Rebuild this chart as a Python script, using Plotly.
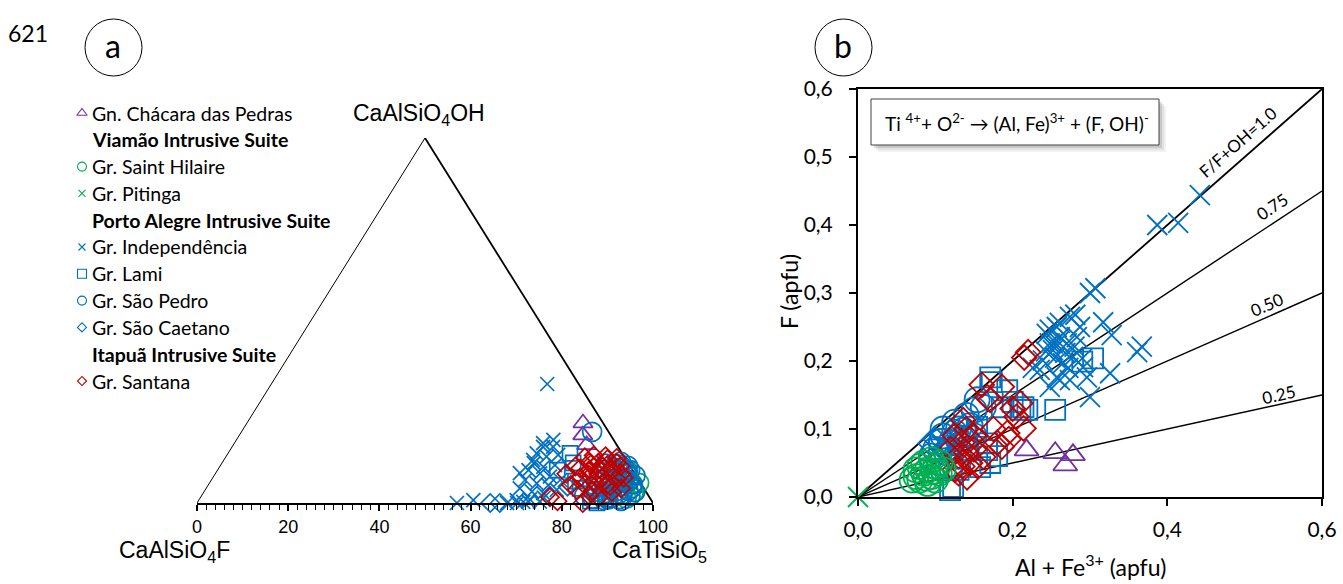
import math
import plotly.graph_objects as go

W, H = 1343, 584

# ---------------- data ----------------
# (a) ternary compositions, mol %: CaTiSiO5 and CaAlSiO4OH (CaAlSiO4F = remainder)
cha_ti = [73.7, 75.3, 77.5]
cha_oh = [21.9, 18.6, 15.9]

sh_ti = [92.0, 91.8, 91.4, 94.3, 90.5, 93.6, 93.0, 90.4, 94.2, 89.9]
sh_oh = [2.3, 4.1, 6.2, 3.0, 8.1, 1.2, 5.2, 6.4, 5.5, 9.0]

ind_ti = [60.5, 57.0, 60.2, 70.2, 71.4, 68.0, 72.5, 75.3, 68.2, 70.4, 67.7, 70.3,
          72.6, 68.4, 71.0, 73.3, 68.2, 71.2, 73.8, 68.8, 71.8, 74.6, 76.5, 68.8,
          71.9, 74.6, 77.1, 69.7, 72.5, 75.0, 66.7, 67.8, 67.7, 69.5]
ind_oh = [32.6, 0.0, 0.8, 0.0, 0.3, 0.0, 1.0, 1.5, 15.4, 15.4, 13.6, 12.7,
          13.2, 10.9, 9.9, 10.4, 9.0, 8.1, 7.2, 6.3, 5.4, 4.9, 6.3, 4.0,
          3.1, 2.7, 3.6, 0.8, 0.4, 0.4, 8.2, 11.8, 16.4, 17.3]

lami_ti = [75.0, 77.0, 87.7, 86.0, 74.5, 82.0, 80.0, 90.0]
lami_oh = [13.6, 11.0, 0.0, 0.5, 9.0, 4.0, 6.0, 1.0]

sp_ti = [86.2, 88.9, 90.4, 92.7, 94.1, 85.8, 88.1, 90.9, 92.2, 94.6, 86.9, 88.4,
         91.1, 92.9, 84.7, 86.3, 89.0, 90.2, 85.1, 86.8, 88.6, 84.2, 87.3, 89.7,
         91.8, 93.4, 87.6, 90.0, 85.5, 76.9, 83.9, 92.4, 89.4, 90.5, 87.9, 89.2,
         91.3, 93.0, 86.4, 88.0, 90.6, 92.1, 85.3, 87.0]
sp_oh = [1.2, 0.8, 1.5, 0.6, 1.9, 3.1, 2.7, 3.4, 2.2, 3.0, 4.8, 5.3,
         4.6, 5.1, 7.2, 6.6, 7.4, 6.9, 9.1, 8.7, 9.4, 10.8, 11.3, 1.0,
         6.0, 4.1, 3.9, 8.2, 5.7, 19.5, 2.0, 7.5, 10.2, 9.0, 1.8, 4.2,
         2.6, 3.3, 9.8, 6.3, 5.9, 1.1, 4.4, 10.6]

sc_ti = [64.3, 66.4, 88.5, 90.2, 91.0, 89.0, 79.0]
sc_oh = [0.0, 0.0, 10.5, 8.8, 6.5, 3.0, 4.5]

san_ti = [76.6, 78.8, 81.5, 84.6, 85.0, 87.3, 79.5, 80.5, 81.5, 82.5, 84.0, 78.8,
          80.5, 84.0, 86.5, 86.5, 89.0, 78.0, 77.0, 82.5, 84.0, 85.5, 87.5, 89.5,
          91.0, 80.5, 84.0, 79.3, 84.8, 88.8, 83.2, 85.9, 87.8, 82.0, 86.2, 88.3,
          81.1, 83.6, 90.1, 85.1]
san_oh = [1.6, 0.5, 3.6, 0.0, 2.0, 1.5, 5.0, 7.0, 9.0, 11.0, 12.0, 12.5,
          13.0, 10.0, 9.0, 11.0, 8.0, 10.0, 8.0, 5.0, 6.0, 7.0, 5.0, 3.0,
          4.0, 11.0, 8.0, 9.5, 10.5, 6.5, 12.8, 12.3, 10.1, 7.8, 5.4, 4.6,
          10.7, 9.2, 6.9, 3.4]

# (b) Al + Fe3+ (apfu) vs F (apfu)
cha_alfe = [0.218, 0.255, 0.278, 0.268, 0.105]
cha_f = [0.069, 0.065, 0.062, 0.047, 0.060]

sh_alfe = [0.075, 0.080, 0.085, 0.090, 0.095, 0.100, 0.105, 0.080, 0.090, 0.100,
           0.085, 0.095, 0.110, 0.075, 0.070, 0.088, 0.098, 0.106]
sh_f = [0.030, 0.025, 0.035, 0.040, 0.030, 0.045, 0.035, 0.045, 0.020, 0.025,
        0.050, 0.055, 0.040, 0.040, 0.025, 0.028, 0.038, 0.050]

pit_alfe = [0.0]
pit_f = [0.0]

ind_alfe = [0.442, 0.387, 0.414, 0.307, 0.300, 0.281, 0.317, 0.328, 0.367, 0.361,
            0.326, 0.300, 0.287, 0.257, 0.248, 0.226, 0.252, 0.244, 0.261, 0.248,
            0.261, 0.270, 0.252, 0.278, 0.239, 0.265, 0.291, 0.235, 0.257, 0.274,
            0.296, 0.248, 0.274, 0.283, 0.261, 0.268, 0.255, 0.280, 0.243, 0.290,
            0.272, 0.259]
ind_f = [0.444, 0.400, 0.403, 0.307, 0.300, 0.268, 0.257, 0.238, 0.221, 0.213,
         0.182, 0.147, 0.250, 0.250, 0.226, 0.190, 0.226, 0.240, 0.172, 0.246,
         0.235, 0.226, 0.216, 0.206, 0.201, 0.197, 0.191, 0.187, 0.176, 0.172,
         0.176, 0.162, 0.265, 0.235, 0.256, 0.212, 0.205, 0.221, 0.214, 0.204,
         0.190, 0.228]

lami_alfe = [0.255, 0.304, 0.290, 0.173, 0.193, 0.210, 0.186, 0.219, 0.119, 0.171,
             0.158, 0.167, 0.154, 0.200, 0.180, 0.140, 0.130, 0.105, 0.171, 0.214,
             0.123, 0.167]
lami_f = [0.128, 0.204, 0.199, 0.169, 0.157, 0.128, 0.132, 0.128, 0.010, 0.050,
          0.044, 0.079, 0.103, 0.140, 0.060, 0.090, 0.040, 0.070, 0.176, 0.132,
          0.015, 0.069]

sp_alfe = [0.115, 0.120, 0.130, 0.125, 0.140, 0.154, 0.150, 0.110, 0.100, 0.135,
           0.145, 0.130, 0.105, 0.120, 0.140, 0.162, 0.095, 0.110, 0.125, 0.150,
           0.118, 0.128, 0.108, 0.136]
sp_f = [0.065, 0.080, 0.100, 0.110, 0.120, 0.143, 0.128, 0.090, 0.070, 0.085,
        0.105, 0.060, 0.050, 0.045, 0.070, 0.132, 0.060, 0.100, 0.095, 0.090,
        0.072, 0.088, 0.082, 0.098]

sc_alfe = [0.093, 0.100, 0.110, 0.120]
sc_f = [0.079, 0.085, 0.070, 0.060]

san_alfe = [0.220, 0.160, 0.186, 0.167, 0.171, 0.210, 0.205, 0.214, 0.193, 0.186,
            0.136, 0.141, 0.162, 0.125, 0.130, 0.135, 0.140, 0.145, 0.150, 0.125,
            0.130, 0.140, 0.150, 0.155, 0.120, 0.145, 0.135, 0.175, 0.200, 0.180,
            0.215, 0.195]
san_f = [0.213, 0.165, 0.162, 0.147, 0.143, 0.138, 0.118, 0.101, 0.094, 0.074,
         0.113, 0.029, 0.059, 0.040, 0.060, 0.080, 0.100, 0.050, 0.070, 0.090,
         0.035, 0.065, 0.090, 0.045, 0.070, 0.085, 0.045, 0.100, 0.130, 0.080,
         0.205, 0.085]

ratios = [1.0, 0.75, 0.50, 0.25]
ratio_labels = ["F/F+OH=1.0", "0.75", "0.50", "0.25"]
label_at = [0.504, 0.546, 0.535, 0.547]
ticks_a = [0, 20, 40, 60, 80, 100]
ticks_b = [0.0, 0.2, 0.4, 0.6]

# ---------------- styles ----------------
BLUE, RED, GREEN, PURPLE = "#0070C0", "#C00000", "#00B050", "#7030A0"
CAL = "Lato, 'Noto Sans', sans-serif"
ARI = "'Liberation Sans', Arial, sans-serif"

series = {
    "cha": dict(name="Gn. Chácara das Pedras", color=PURPLE, symbol="triangle-up-open", sa=17, sb=21, sl=9),
    "sh": dict(name="Gr. Saint Hilaire", color=GREEN, symbol="circle-open", sa=19, sb=25, sl=9),
    "pit": dict(name="Gr. Pitinga", color=GREEN, symbol="x-thin-open", sa=14, sb=20, sl=7),
    "ind": dict(name="Gr. Independência", color=BLUE, symbol="x-thin-open", sa=14, sb=20, sl=7),
    "lami": dict(name="Gr. Lami", color=BLUE, symbol="square-open", sa=15, sb=20, sl=9),
    "sp": dict(name="Gr. São Pedro", color=BLUE, symbol="circle-open", sa=19, sb=25, sl=9),
    "sc": dict(name="Gr. São Caetano", color=BLUE, symbol="diamond-open", sa=14, sb=18, sl=7),
    "san": dict(name="Gr. Santana", color=RED, symbol="diamond-open", sa=14, sb=19, sl=7),
}

panel_a = {
    "sh": (sh_ti, sh_oh), "cha": (cha_ti, cha_oh), "ind": (ind_ti, ind_oh),
    "lami": (lami_ti, lami_oh), "sp": (sp_ti, sp_oh), "sc": (sc_ti, sc_oh),
    "san": (san_ti, san_oh),
}
panel_b = {
    "cha": (cha_alfe, cha_f), "ind": (ind_alfe, ind_f), "lami": (lami_alfe, lami_f),
    "sp": (sp_alfe, sp_f), "sc": (sc_alfe, sc_f), "san": (san_alfe, san_f),
    "sh": (sh_alfe, sh_f), "pit": (pit_alfe, pit_f),
}


def px(x):
    return x / W


def py(y):
    return 1 - y / H


def marker(key, size, lw):
    s = series[key]
    return dict(symbol=s["symbol"], size=size, color=s["color"],
                line=dict(color=s["color"], width=lw))


fig = go.Figure()

# ---- (a) ternary triangle drawn on a cartesian frame ----
fig.add_trace(go.Scatter(x=[0, 50], y=[0, 100], mode="lines", line=dict(color="black", width=1),
                         xaxis="x", yaxis="y", hoverinfo="skip"))
fig.add_trace(go.Scatter(x=[50, 100], y=[100, 0], mode="lines", line=dict(color="black", width=1.8),
                         xaxis="x", yaxis="y", hoverinfo="skip"))
for key, (ti, oh) in panel_a.items():
    xs = [t + o / 2 for t, o in zip(ti, oh)]
    fig.add_trace(go.Scatter(x=xs, y=oh, mode="markers", name=series[key]["name"],
                             marker=marker(key, series[key]["sa"], 1.7),
                             cliponaxis=False, xaxis="x", yaxis="y"))

# ---- (b) F vs Al + Fe3+ ----
for r in ratios:
    fig.add_trace(go.Scatter(x=[0, 0.6], y=[0, 0.6 * r], mode="lines",
                             line=dict(color="black", width=1.8 if r == 1.0 else 1.4),
                             xaxis="x2", yaxis="y2", hoverinfo="skip"))
for key, (xv, yv) in panel_b.items():
    fig.add_trace(go.Scatter(x=xv, y=yv, mode="markers", name=series[key]["name"],
                             marker=marker(key, series[key]["sb"], 1.8),
                             cliponaxis=False, xaxis="x2", yaxis="y2"))

# ---- legend of panel (a), drawn on a pixel overlay ----
legend_rows = [("cha", None), (None, "Viamão Intrusive Suite"), ("sh", None), ("pit", None),
               (None, "Porto Alegre Intrusive Suite"), ("ind", None), ("lami", None),
               ("sp", None), ("sc", None), (None, "Itapuã Intrusive Suite"), ("san", None)]
row_y0, row_dy = 113, 26.8
annotations = []
for i, (key, header) in enumerate(legend_rows):
    yy = row_y0 + i * row_dy
    if key:
        fig.add_trace(go.Scatter(x=[82], y=[yy], mode="markers",
                                 marker=marker(key, series[key]["sl"], 1.1),
                                 xaxis="x3", yaxis="y3", hoverinfo="skip"))
        text = series[key]["name"]
    else:
        text = "<b>%s</b>" % header
    annotations.append(dict(x=px(90), y=py(yy), xref="paper", yref="paper", text=text,
                            showarrow=False, xanchor="left", yanchor="middle",
                            font=dict(family=CAL, size=19.5, color="black")))

# vertex labels
annotations += [
    dict(x=px(351), y=py(114), text="CaAlSiO<sub>4</sub>OH", xanchor="left"),
    dict(x=px(117), y=py(551), text="CaAlSiO<sub>4</sub>F", xanchor="left"),
    dict(x=px(610), y=py(551), text="CaTiSiO<sub>5</sub>", xanchor="left"),
]
for a in annotations[-3:]:
    a.update(xref="paper", yref="paper", showarrow=False, yanchor="middle",
             font=dict(family=ARI, size=23, color="black"))

# panel tags and page number
annotations += [
    dict(x=px(113), y=py(45), text="a", font=dict(family=CAL, size=32, color="black")),
    dict(x=px(843), y=py(45), text="b", font=dict(family=CAL, size=32, color="black")),
    dict(x=px(28), y=py(33), text="621", font=dict(family=CAL, size=23, color="black")),
    dict(x=px(1017), y=py(122),
         text="Ti <sup>4+</sup>+ O<sup>2-</sup> → (Al, Fe)<sup>3+</sup> + (F, OH)<sup>-</sup>",
         font=dict(family=CAL, size=19, color="black")),
    dict(x=px(789), y=py(292), text="F (apfu)", textangle=-90,
         font=dict(family=CAL, size=23, color="black")),
    dict(x=px(1090), y=py(565), text="Al + Fe<sup>3+</sup> (apfu)",
         font=dict(family=CAL, size=23, color="black")),
]
for a in annotations[-6:]:
    a.update(xref="paper", yref="paper", showarrow=False, xanchor="center", yanchor="middle")

# labels along the F/(F+OH) reference lines
kx, ky = 773.3, 680.0  # px per apfu on each axis of panel (b)
offsets = [15.5, 15.0, 11.5, 10.0]
for r, lab, lx, off in zip(ratios, ratio_labels, label_at, offsets):
    ang = math.degrees(math.atan(r * ky / kx))
    annotations.append(dict(x=lx, y=lx * r, xref="x2", yref="y2", text=lab, showarrow=False,
                            textangle=-ang, xanchor="center", yanchor="middle",
                            xshift=-off * math.sin(math.radians(ang)),
                            yshift=off * math.cos(math.radians(ang)),
                            font=dict(family=CAL, size=17, color="black")))

shapes = [
    dict(type="circle", xref="paper", yref="paper", x0=px(85), x1=px(142), y0=py(76), y1=py(19),
         line=dict(color="black", width=1)),
    dict(type="circle", xref="paper", yref="paper", x0=px(815), x1=px(872), y0=py(76), y1=py(19),
         line=dict(color="black", width=1)),
]
# soft shadow behind the reaction box
for d, op in [(7, 0.10), (5, 0.15), (3, 0.25)]:
    shapes.append(dict(type="rect", xref="paper", yref="paper", x0=px(871 + d), x1=px(1159 + d),
                       y0=py(145 + d), y1=py(99 + d), fillcolor="gray", opacity=op,
                       line=dict(width=0)))
shapes.append(dict(type="rect", xref="paper", yref="paper", x0=px(871), x1=px(1159),
                   y0=py(145), y1=py(99), fillcolor="white", line=dict(color="#404040", width=1)))

fig.update_layout(
    width=W, height=H, autosize=False, margin=dict(l=0, r=0, t=0, b=0, pad=0),
    paper_bgcolor="white", plot_bgcolor="rgba(0,0,0,0)",
    showlegend=False, separators=",.",
    annotations=annotations, shapes=shapes,
    xaxis=dict(domain=[px(197), px(653)], range=[0, 100], anchor="y", automargin=False,
               showline=True, linecolor="black", linewidth=2, showgrid=False, zeroline=False,
               tickvals=ticks_a, ticks="outside", ticklen=6, tickwidth=1.5, tickcolor="black",
               minor=dict(ticks="outside", ticklen=5, tickwidth=1, tickcolor="black", dtick=2, showgrid=False),
               tickfont=dict(family=ARI, size=18, color="black"), fixedrange=True),
    yaxis=dict(domain=[py(503), py(138)], range=[0, 100], anchor="x", visible=False,
               automargin=False, fixedrange=True),
    xaxis2=dict(domain=[px(858), px(1322)], range=[0, 0.6], anchor="y2", automargin=False,
                showline=True, mirror=True, linecolor="black", linewidth=2, showgrid=False, zeroline=False,
                tickvals=ticks_b, tickformat=".1f", ticks="outside", ticklen=7, tickwidth=1.5,
                tickcolor="black", ticklabelstandoff=6,
                tickfont=dict(family=CAL, size=21, color="black"), fixedrange=True),
    yaxis2=dict(domain=[py(497), py(89)], range=[0, 0.6], anchor="x2", automargin=False,
                showline=True, mirror=True, linecolor="black", linewidth=2, showgrid=False, zeroline=False,
                dtick=0.1, tickformat=".1f", ticks="outside", ticklen=7, tickwidth=1.5,
                tickcolor="black", ticklabelstandoff=12,
                tickfont=dict(family=CAL, size=21, color="black"), fixedrange=True),
    xaxis3=dict(domain=[0, 1], range=[0, W], anchor="y3", visible=False, automargin=False, fixedrange=True),
    yaxis3=dict(domain=[0, 1], range=[H, 0], anchor="x3", visible=False, automargin=False, fixedrange=True),
)

fig.write_html("out.html")
